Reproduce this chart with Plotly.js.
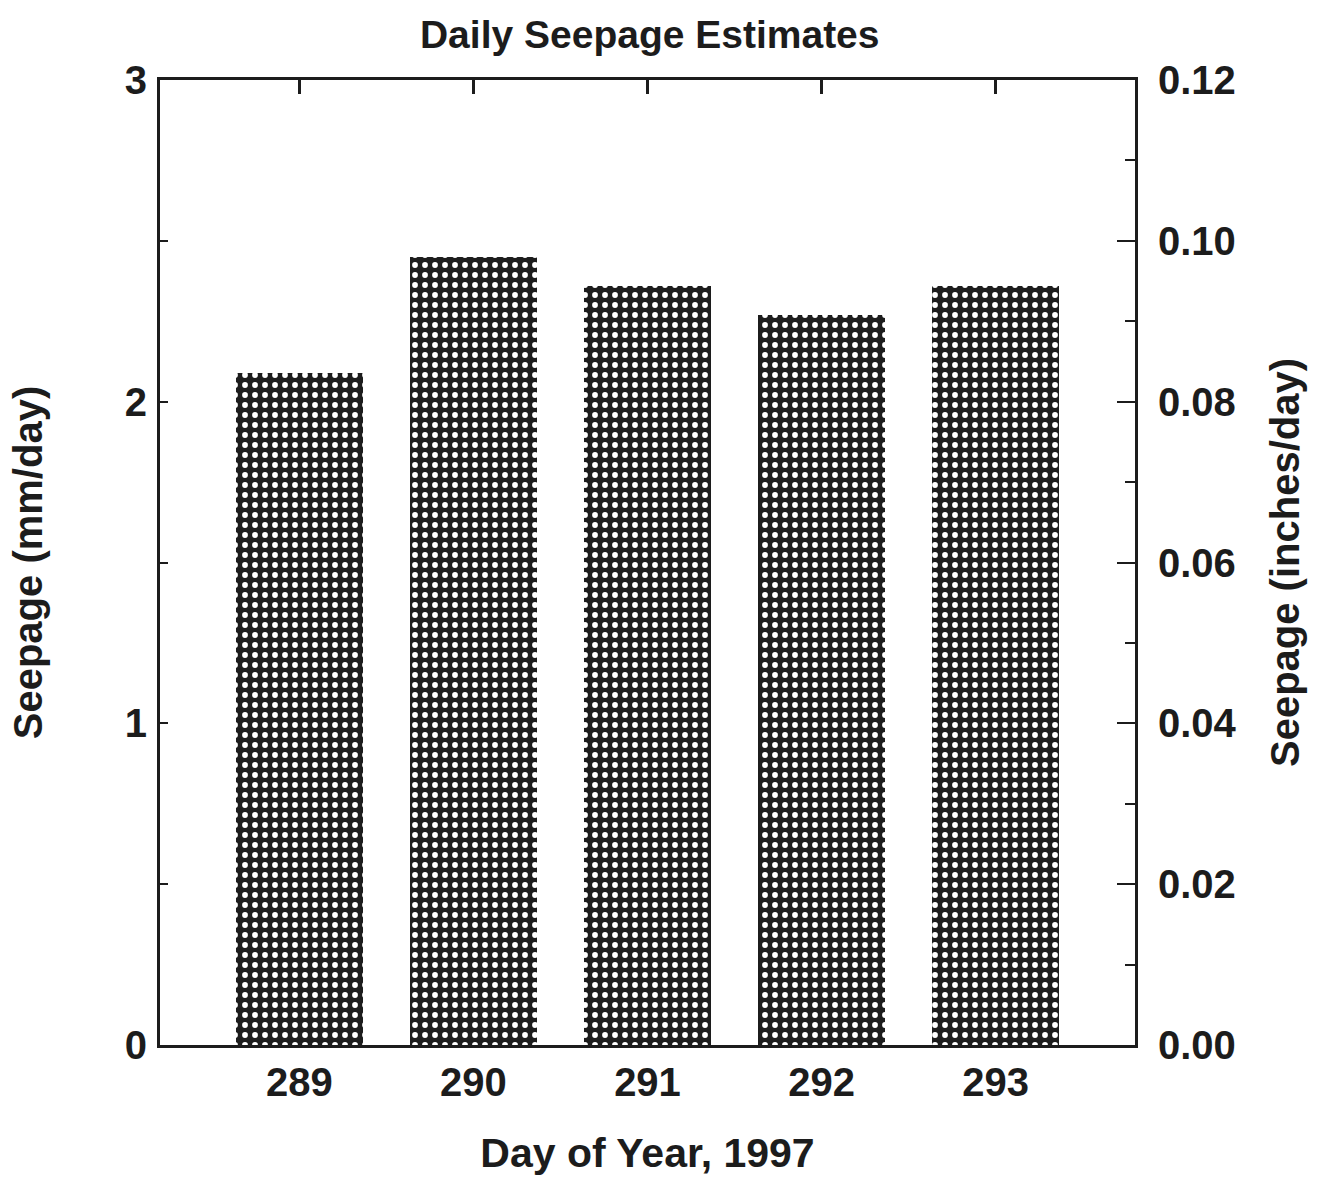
<!DOCTYPE html>
<html>
<head>
<meta charset="utf-8">
<script src="https://cdn.plot.ly/plotly-3.0.1.min.js"></script>
<style>html,body{margin:0;padding:0;background:#fff;}#chart{width:1326px;height:1180px;}</style>
</head>
<body>
<div id="chart"></div>
<script>
const days = [289, 290, 291, 292, 293];
const seepageMm = [2.09, 2.45, 2.36, 2.27, 2.36];
const xTickLabels = ["289", "290", "291", "292", "293"];
const leftTicks = [0, 1, 2, 3];
const rightTicks = [0, 0.02, 0.04, 0.06, 0.08, 0.10, 0.12];

const font = "Liberation Sans, Arial, sans-serif";
const ink = "#1c1c1c";

const trace = {
  type: "bar",
  x: days,
  y: seepageMm,
  width: 0.73,
  marker: {
    color: ink,
    line: {width: 0},
    pattern: {shape: ".", fgcolor: "#ffffff", bgcolor: ink, size: 10, solidity: 0.26, fillmode: "replace"}
  },
  hoverinfo: "x+y",
  showlegend: false
};

const layout = {
  width: 1326, height: 1180,
  paper_bgcolor: "#ffffff", plot_bgcolor: "#ffffff",
  margin: {l: 160, r: 191, t: 80, b: 135},
  title: {text: "Daily Seepage Estimates", x: 0.49, xanchor: "center", y: 0.971, yanchor: "middle",
          font: {family: font, size: 39, color: ink, weight: "bold"}},
  bargap: 0,
  xaxis: {
    range: [288.2, 293.8], tickvals: days, ticktext: xTickLabels,
    ticks: "", showgrid: false, zeroline: false,
    showline: true, linecolor: ink, linewidth: 3, mirror: true,
    tickfont: {family: font, size: 40, color: ink, weight: "bold"},
    title: {text: "Day of Year, 1997", standoff: 36, font: {family: font, size: 41, color: ink, weight: "bold"}}
  },
  xaxis2: {
    overlaying: "x", side: "top", range: [288.2, 293.8], tickvals: days,
    showticklabels: false, ticks: "inside", ticklen: 14, tickwidth: 3, tickcolor: ink,
    showgrid: false, zeroline: false, showline: false
  },
  yaxis: {
    range: [0, 3], tickvals: leftTicks, ticktext: leftTicks.map(String),
    ticks: "inside", ticklen: 8, tickwidth: 2, tickcolor: ink, ticklabelstandoff: 2,
    minor: {dtick: 0.5, ticks: "inside", ticklen: 8, tickwidth: 2, tickcolor: ink, showgrid: false},
    showgrid: false, zeroline: false, showline: true, linecolor: ink, linewidth: 3,
    tickfont: {family: font, size: 40, color: ink, weight: "bold"},
    title: {text: "Seepage (mm/day)", standoff: 70, font: {family: font, size: 40, color: ink, weight: "bold"}}
  },
  yaxis2: {
    overlaying: "y", side: "right", range: [0, 0.12], tickvals: rightTicks,
    ticktext: rightTicks.map(v => v.toFixed(2)),
    ticks: "inside", ticklen: 18, tickwidth: 2, tickcolor: ink, ticklabelstandoff: 12,
    minor: {dtick: 0.01, ticks: "inside", ticklen: 10, tickwidth: 2, tickcolor: ink, showgrid: false},
    showgrid: false, zeroline: false, showline: true, linecolor: ink, linewidth: 3,
    tickfont: {family: font, size: 40, color: ink, weight: "bold"},
    title: {text: "Seepage (inches/day)", standoff: 36, font: {family: font, size: 40, color: ink, weight: "bold"}}
  }
};

const helperTop = {type: "scatter", x: [days[0]], y: [0], xaxis: "x2", yaxis: "y", mode: "markers",
  marker: {opacity: 0}, hoverinfo: "skip", showlegend: false};
const helperRight = {type: "scatter", x: [days[0]], y: [0], xaxis: "x", yaxis: "y2", mode: "markers",
  marker: {opacity: 0}, hoverinfo: "skip", showlegend: false};

Plotly.newPlot("chart", [trace, helperTop, helperRight], layout, {displayModeBar: false});
</script>
</body>
</html>
